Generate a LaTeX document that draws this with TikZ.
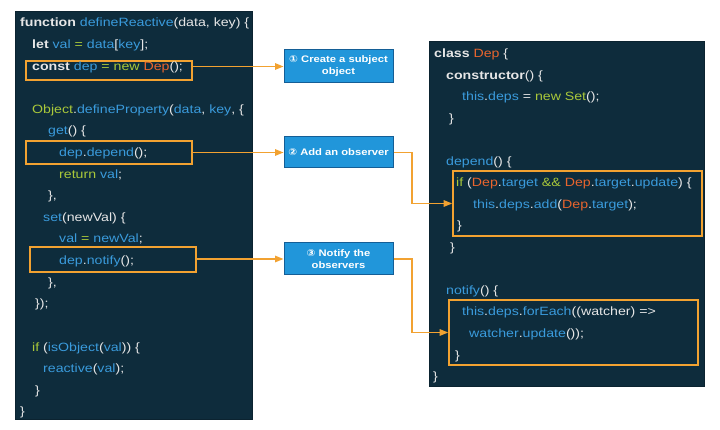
\documentclass[tikz,border=0pt]{standalone}
\usepackage{fontspec}
\setmainfont{Liberation Sans}[FakeStretch=1.18]
\newfontfamily\dvs{DejaVu Sans}[FakeStretch=1.1]
\usetikzlibrary{arrows.meta}
\definecolor{bg}{HTML}{0E2C3C}
\definecolor{cw}{HTML}{E6E6E6}
\definecolor{cb}{HTML}{3A9BDC}
\definecolor{cg}{HTML}{A9C83A}
\definecolor{co}{HTML}{E8652E}
\definecolor{hl}{HTML}{F2A231}
\definecolor{bfill}{HTML}{2196DA}
\definecolor{bdraw}{HTML}{145E96}
\newcommand\jB[1]{\textcolor{cb}{#1}}
\newcommand\jG[1]{\textcolor{cg}{#1}}
\newcommand\jO[1]{\textcolor{co}{#1}}
\newcommand\jK[1]{\textbf{#1}}
\tikzset{
  code/.style={anchor=base west, inner sep=0pt, text=cw, font=\fontsize{12}{14}\selectfont},
  panel/.style={fill=bg, draw=bg!80!black, line width=0.6pt, inner sep=0pt, anchor=north west},
  hlbox/.style={draw=hl, line width=1.6pt, inner sep=0pt},
  stepbox/.style={fill=bfill, draw=bdraw, line width=1pt, inner sep=0pt, text=white,
    font=\fontsize{9.5}{12}\selectfont\bfseries, align=center, minimum width=109pt},
  arr/.style={draw=hl, line width=1.4pt, -{Triangle[length=8.5pt,width=6.5pt]}}
}
\begin{document}
\begin{tikzpicture}[x=1pt,y=-1pt]
\useasboundingbox (0,0) rectangle (720,430);
% panels
\node[panel, minimum width=237pt, minimum height=408pt] (lp) at (15,11) {};
\node[panel, minimum width=275pt, minimum height=345pt] (rp) at (429,41) {};
% highlight boxes
\node[hlbox, minimum width=166pt, minimum height=19.5pt] (b1) at (109,70.5) {};
\node[hlbox, minimum width=166pt, minimum height=23pt] (b2) at (109,152.5) {};
\node[hlbox, minimum width=166pt, minimum height=25pt] (b3) at (113,259.5) {};
\node[hlbox, minimum width=249pt, minimum height=65pt] (r1) at (577.5,203.5) {};
\node[hlbox, minimum width=249pt, minimum height=65pt] (r2) at (573.5,332.5) {};
% left code
\node[code] (l0) at (20,27) {\jK{function} \jB{defineReactive}(data, key) \{};
\node[code] (l1) at (32,48.6) {\jK{let} \jB{val} \jG{=} \jB{data}[\jB{key}];};
\node[code] (l2) at (32,71) {\jK{const} \jB{dep} \jG{= new} \jO{Dep}();};
\node[code] (l4) at (32,113.4) {\jG{Object}.\jB{defineProperty}(\jB{data}, \jB{key}, \{};
\node[code] (l5) at (48,135) {\jB{get}() \{};
\node[code] (l6) at (59,156.6) {\jB{dep}.\jB{depend}();};
\node[code] (l7) at (59,178.2) {\jG{return} \jB{val};};
\node[code] (l8) at (48,199.8) {\},};
\node[code] (l9) at (43,221.4) {\jB{set}(newVal) \{};
\node[code] (l10) at (59,243) {\jB{val} \jG{=} \jB{newVal};};
\node[code] (l11) at (59,264.6) {\jB{dep}.\jB{notify}();};
\node[code] (l12) at (48,286.2) {\},};
\node[code] (l13) at (35,307.8) {\});};
\node[code] (l15) at (32,351) {\jG{if} (\jB{isObject}(\jB{val})) \{};
\node[code] (l16) at (43,372.6) {\jB{reactive}(\jB{val});};
\node[code] (l17) at (35,394.2) {\}};
\node[code] (l18) at (20,415.8) {\}};
% right code
\node[code] (r0) at (434,58) {\jK{class} \jO{Dep} \{};
\node[code] (rc1) at (446,79.5) {\jK{constructor}() \{};
\node[code] (rc2) at (462,101) {\jB{this}.\jB{deps} = \jG{new Set}();};
\node[code] (rc3) at (449,122.5) {\}};
\node[code] (rc5) at (446,165.5) {\jB{depend}() \{};
\node[code] (rc6) at (456,187) {\jG{if} (\jO{Dep}.\jB{target} \jG{\&\&} \jO{Dep}.\jB{target}.\jB{update}) \{};
\node[code] (rc7) at (473,208.5) {\jB{this}.\jB{deps}.\jB{add}(\jO{Dep}.\jB{target});};
\node[code] (rc8) at (457,230) {\}};
\node[code] (rc9) at (450,251.5) {\}};
\node[code] (rc11) at (446,294.5) {\jB{notify}() \{};
\node[code] (rc12) at (462,316) {\jB{this}.\jB{deps}.\jB{forEach}((watcher) =>};
\node[code] (rc13) at (469,337.5) {\jB{watcher}.\jB{update}());};
\node[code] (rc14) at (455,359) {\}};
\node[code] (rc15) at (433,380.5) {\}};
% step boxes
\node[stepbox, minimum height=33pt] (a1) at (338.5,66.5) {{\dvs\bfseries ①} Create a subject\\object};
\node[stepbox, minimum height=31pt] (a2) at (338.5,152.5) {{\dvs\bfseries ②} Add an observer};
\node[stepbox, minimum height=32pt] (a3) at (338.5,259) {{\dvs\bfseries ③} Notify the\\observers};
% connectors
\coordinate (k2) at (412,152.5);
\coordinate (k3) at (412,259);
\draw[arr] (b1.east |- a1.west) -- (a1.west);
\draw[arr] (b2.east |- a2.west) -- (a2.west);
\draw[arr] (b3.east |- a3.west) -- (a3.west);
\draw[arr] (a2.east) -- (k2) |- (r1.west);
\draw[arr] (a3.east) -- (k3) |- (r2.west);
\end{tikzpicture}
\end{document}
